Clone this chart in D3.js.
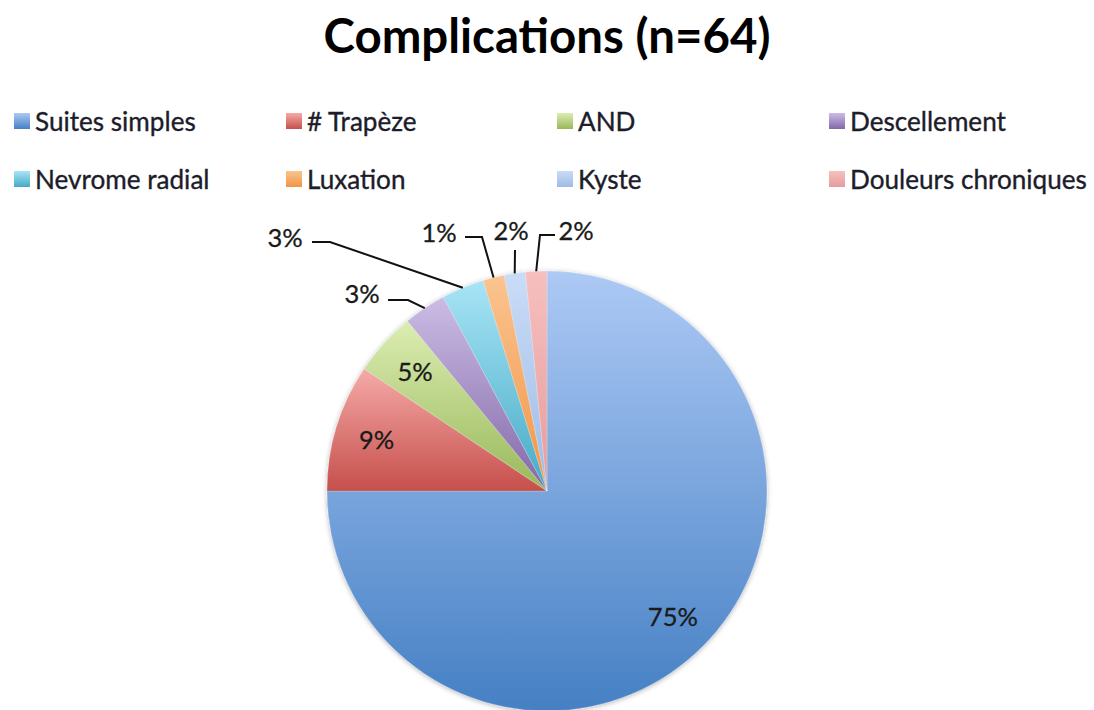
<!DOCTYPE html>
<html>
<head>
<meta charset="utf-8">
<script src="https://cdn.jsdelivr.net/npm/d3@7"></script>
<style>
  html, body { margin: 0; padding: 0; background: #fff; }
  svg { display: block; }
  text { font-family: Lato, "Open Sans", sans-serif; }
</style>
</head>
<body>
<svg id="chart" width="1094" height="710"></svg>
<script>
// ---- data ----
const title = "Complications (n=64)";
const categories = ["Suites simples", "# Trapèze", "AND", "Descellement", "Nevrome radial", "Luxation", "Kyste", "Douleurs chroniques"];
const counts = [48, 6, 3, 2, 2, 1, 1, 1];
const pctLabels = ["75%", "9%", "5%", "3%", "3%", "1%", "2%", "2%"];

// ---- styles ----
const colorTop =    ["#adc9f5", "#f5aaa8", "#dcedb2", "#cbbce4", "#a8e4f6", "#fbc490", "#cadcf7", "#f6c0bf"];
const colorBottom = ["#4580c4", "#c64f4b", "#98b85a", "#8368a8", "#45aac6", "#f09546", "#9dbbe6", "#e49c9b"];

// ---- layout ----
const W = 1094, H = 710;
const cx = 547, cy = 491, R = 220, labelR = 178;
const legendCols = [14, 286, 557, 829];
const legendRows = [122, 180];
// outside callouts (relative to pie center): label centre, then elbow points
const callouts = {
  3: { label: [-185, -197], pts: [[-159, -191], [-139, -191]] },
  4: { label: [-262, -253], pts: [[-235, -249], [-217, -249]] },
  5: { label: [-108, -258], pts: [[-82, -254], [-65, -254]] },
  6: { label: [-36, -260], pts: [[-32, -241]] },
  7: { label: [29, -260], pts: [[8, -256], [-7, -256]] }
};

const svg = d3.select("#chart");
const defs = svg.append("defs");

categories.forEach((c, i) => {
  const g = defs.append("linearGradient").attr("id", "grad" + i)
    .attr("x1", 0).attr("y1", 0).attr("x2", 0).attr("y2", 1);
  g.append("stop").attr("offset", "0%").attr("stop-color", colorTop[i]);
  g.append("stop").attr("offset", "100%").attr("stop-color", colorBottom[i]);
});

const f = defs.append("filter").attr("id", "shadow")
  .attr("x", "-10%").attr("y", "-10%").attr("width", "120%").attr("height", "120%");
f.append("feDropShadow").attr("dx", 0).attr("dy", 1).attr("stdDeviation", 2.5)
  .attr("flood-color", "#000").attr("flood-opacity", 0.3);

function fitText(sel, target) {
  const w = sel.node().getComputedTextLength();
  const fs = parseFloat(sel.attr("font-size"));
  sel.attr("font-size", (fs * target / w).toFixed(2));
}

// ---- title ----
const t = svg.append("text").attr("x", cx).attr("y", 53)
  .attr("text-anchor", "middle").attr("font-weight", 700)
  .attr("font-size", 40).attr("fill", "#000").text(title);
fitText(t, 447);

// ---- legend ----
const legend = svg.append("g");
categories.forEach((c, i) => {
  const col = i % 4, row = Math.floor(i / 4);
  const g = legend.append("g").attr("transform", `translate(${legendCols[col]},${legendRows[row]})`);
  g.append("rect").attr("x", 0).attr("y", -9).attr("width", 16).attr("height", 16)
    .attr("fill", `url(#grad${i})`);
  g.append("text").attr("x", 21).attr("y", 0).attr("dy", "0.36em")
    .attr("font-size", 22).attr("fill", "#1c1c2a")
    .attr("stroke", "#1c1c2a").attr("stroke-width", 0.35).text(c);
});
{
  const texts = legend.selectAll("text");
  const last = d3.select(texts.nodes()[7]);
  const w = last.node().getComputedTextLength();
  texts.attr("font-size", (22 * 237 / w).toFixed(2));
}

// ---- pie ----
const pie = d3.pie().sort(null).value(d => d);
const arcs = pie(counts);
const arc = d3.arc().innerRadius(0).outerRadius(R);
const edgeArc = d3.arc().innerRadius(R).outerRadius(R);
const inArc = d3.arc().innerRadius(labelR).outerRadius(labelR);

const pg = svg.append("g").attr("transform", `translate(${cx},${cy})`);
pg.append("g").attr("filter", "url(#shadow)")
  .selectAll("path").data(arcs).join("path")
  .attr("d", arc)
  .attr("fill", (d, i) => `url(#grad${i})`)
  .attr("stroke", "rgba(255,255,255,0.35)").attr("stroke-width", 0.6);

// labels
const lab = pg.append("g");
arcs.forEach((d, i) => {
  const co = callouts[i];
  let x, y;
  if (co) {
    [x, y] = co.label;
    const anchor = edgeArc.centroid(d);
    const pts = co.pts.concat([anchor]);
    lab.append("path").attr("d", d3.line()(pts))
      .attr("fill", "none").attr("stroke", "#111").attr("stroke-width", 2);
  } else {
    [x, y] = inArc.centroid(d);
  }
  lab.append("text").attr("class", "pl").attr("x", x).attr("y", y).attr("dy", "0.36em")
    .attr("text-anchor", "middle").attr("font-size", 26).attr("fill", "#1a1a1a")
    .attr("stroke", "#1a1a1a").attr("stroke-width", 0.3)
    .text(pctLabels[i]);
});
{
  const pl = lab.selectAll("text.pl");
  const w = pl.nodes()[0].getComputedTextLength();
  pl.attr("font-size", (26 * 50 / w).toFixed(2));
}
</script>
</body>
</html>
